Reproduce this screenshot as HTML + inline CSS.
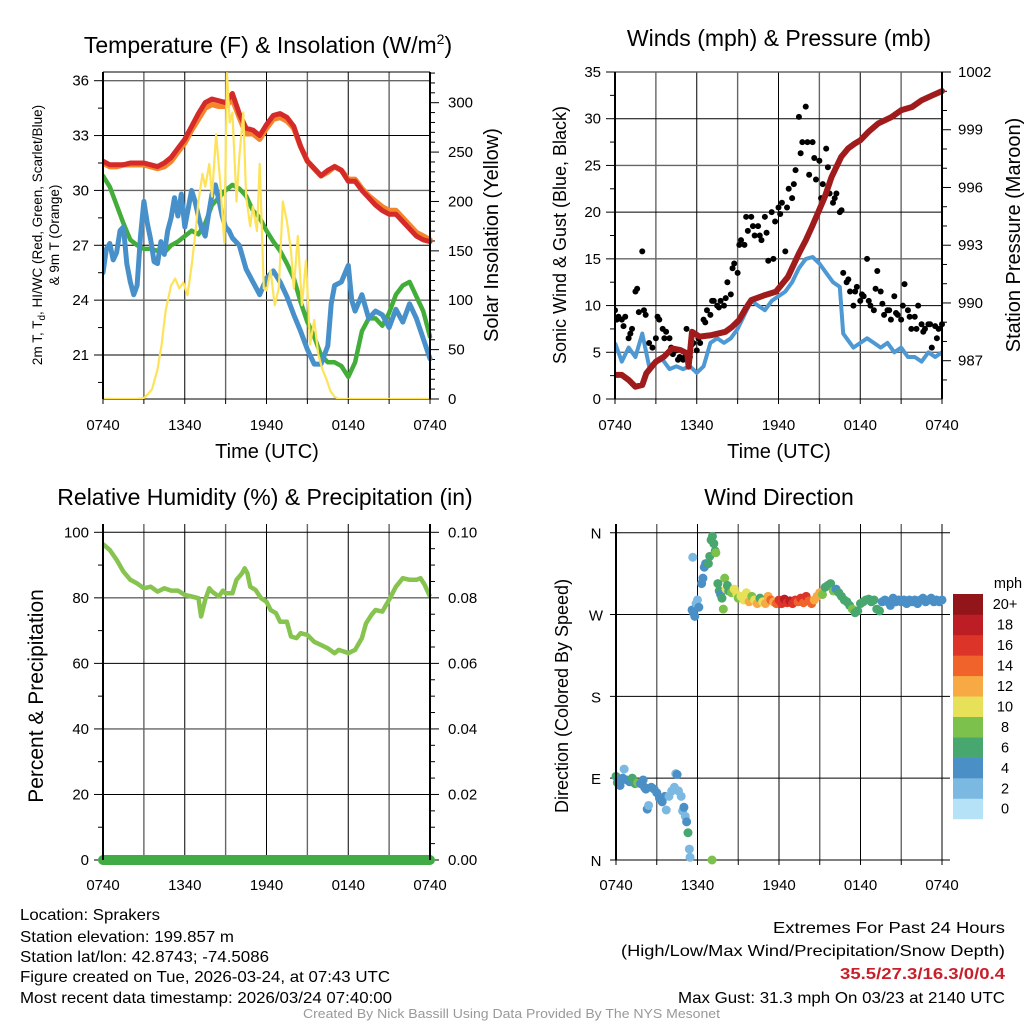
<!DOCTYPE html>
<html><head><meta charset="utf-8"><style>
html,body{margin:0;padding:0;background:#fff;}
svg{display:block;font-family:"Liberation Sans",sans-serif;}
</style></head><body>
<svg id="s" width="1024" height="1024" viewBox="0 0 1024 1024" xmlns="http://www.w3.org/2000/svg">
<g id="panels"></g>
<g font-size="16" fill="#000">
<text x="20" y="920" textLength="140" lengthAdjust="spacingAndGlyphs">Location: Sprakers</text>
<text x="20" y="942" textLength="214" lengthAdjust="spacingAndGlyphs">Station elevation: 199.857 m</text>
<text x="20" y="962" textLength="249" lengthAdjust="spacingAndGlyphs">Station lat/lon: 42.8743; -74.5086</text>
<text x="20" y="982" textLength="370" lengthAdjust="spacingAndGlyphs">Figure created on Tue, 2026-03-24, at 07:43 UTC</text>
<text x="20" y="1003" textLength="372" lengthAdjust="spacingAndGlyphs">Most recent data timestamp: 2026/03/24 07:40:00</text>
</g>
<g font-size="16">
<text x="773" y="933" textLength="232" lengthAdjust="spacingAndGlyphs">Extremes For Past 24 Hours</text>
<text x="621" y="956" textLength="384" lengthAdjust="spacingAndGlyphs">(High/Low/Max Wind/Precipitation/Snow Depth)</text>
<text x="840" y="979" textLength="165" lengthAdjust="spacingAndGlyphs" fill="#c8202a" font-weight="bold">35.5/27.3/16.3/0/0.4</text>
<text x="678" y="1003" textLength="327" lengthAdjust="spacingAndGlyphs">Max Gust: 31.3 mph On 03/23 at 2140 UTC</text>
</g>
<text x="303" y="1018" font-size="12.5" textLength="417" lengthAdjust="spacingAndGlyphs" fill="#999">Created By Nick Bassill Using Data Provided By The NYS Mesonet</text>
</svg>
<script>
// ---------- DATA ----------
const xTickLabels=["0740","1340","1940","0140","0740"];
const tempTimes=[0,0.5,1,1.5,2,2.5,3,3.5,4,4.5,5,5.5,6,6.5,7,7.5,8,8.5,9,9.5,10,10.5,11,11.5,12,12.5,13,13.5,14,14.5,15,15.5,16,16.5,17,17.5,18,18.5,19,19.5,20,20.5,21,21.5,22,22.5,23,23.5,24];
const tempRed=[31.6,31.4,31.4,31.4,31.5,31.5,31.5,31.4,31.3,31.5,31.8,32.3,32.8,33.5,34.2,34.8,35.0,34.9,34.8,35.3,34.2,33.4,33.3,33.0,33.6,34.1,34.2,34.0,33.5,32.4,31.6,31.2,30.8,31.1,31.3,31.1,30.5,30.5,30.0,29.6,29.2,28.9,28.7,28.7,28.3,27.9,27.5,27.3,27.2];
const tempOrange=[31.5,31.3,31.3,31.4,31.4,31.4,31.4,31.3,31.2,31.3,31.6,32.1,32.6,33.3,33.9,34.5,34.7,34.6,34.6,35.0,34.0,33.1,33.1,32.8,33.4,33.9,34.0,33.8,33.4,32.4,31.6,31.2,30.8,31.0,31.3,31.1,30.6,30.6,30.1,29.7,29.4,29.1,28.9,28.9,28.5,28.1,27.7,27.5,27.3];
const tempGreen=[30.8,30.2,29.2,28.2,27.3,27.0,26.8,26.8,26.7,26.6,27.0,27.2,27.5,27.8,27.6,28.2,29.2,29.6,30.0,30.3,30.1,29.7,28.9,28.5,27.8,27.2,26.7,26.0,25.2,23.9,22.8,22.0,21.0,20.6,20.6,20.4,19.8,20.6,22.3,23.0,23.0,22.6,23.3,24.3,24.8,25.0,24.2,23.4,22.0];
const chillTimes=[0,0.25,0.5,0.75,1,1.25,1.5,1.75,2,2.25,2.5,2.75,3,3.25,3.5,3.75,4,4.25,4.5,4.75,5,5.25,5.5,5.75,6,6.25,6.5,6.75,7,7.25,7.5,7.75,8,8.25,8.5,8.75,9,9.25,9.5,9.75,10,10.5,11,11.5,12,12.5,13,13.5,14,14.5,15,15.5,16,16.5,16.75,17,17.5,18,18.25,18.5,19,19.5,20,20.5,21,21.5,22,22.5,23,23.5,24];
const tempBlue=[25.5,26.8,27.1,26.2,26.6,27.8,28.0,26.0,25.0,24.3,24.8,27.5,29.4,28.2,27.3,26.1,26.0,27.2,26.5,27.8,28.5,29.6,28.6,29.8,28.0,29.0,30.0,29.4,28.6,27.9,27.5,28.7,29.8,30.3,29.5,28.6,28.0,27.8,27.4,27.2,27.0,25.7,25.0,24.3,25.2,25.6,25.0,24.2,23.2,22.3,21.3,20.5,20.5,21.5,23.8,24.8,25.0,25.9,24.0,23.4,24.3,23.0,23.4,23.2,22.5,23.5,22.8,23.8,23.0,21.9,20.8];
const solarTimes=[0,1,2,2.5,3,3.3,3.6,4,4.3,4.6,5,5.3,5.6,5.9,6.2,6.5,6.8,7,7.3,7.5,7.8,8,8.3,8.6,8.9,9.1,9.3,9.5,9.8,10,10.3,10.5,10.8,11,11.3,11.5,11.8,12,12.3,12.6,12.9,13.2,13.5,13.8,14,14.3,14.6,14.9,15.2,15.5,15.8,16.1,16.4,16.7,17,17.3,17.6,18,20,22,24];
const solarVals=[0,0,0,0,1,5,10,30,55,90,115,122,112,118,105,135,170,200,228,215,238,205,268,220,158,330,280,290,200,245,290,205,175,195,170,238,112,110,130,95,112,200,180,150,112,165,95,140,55,80,45,30,20,8,2,0,0,0,0,0,0];
const windTimes=[0,0.5,1,1.5,2,2.5,3,3.5,4,4.5,5,5.5,6,6.5,7,7.5,8,8.5,9,9.5,10,10.5,11,11.5,12,12.5,13,13.5,14,14.5,15,15.5,16,16.5,16.75,17,17.5,18,18.5,19,19.5,20,20.5,21,21.5,22,22.5,23,23.5,24];
const windSpeed=[6,4,5.5,4.5,7,3.5,4,4.2,3.2,3.5,3.2,3.5,2.8,3.5,6,6.5,6,6.5,7.5,9,10.5,10,9.5,10.5,11,11.5,12.5,14,15,15.2,14.5,13.5,12.5,12,7,6.5,5.5,6,6.5,6,5.5,6,5,5.5,4.5,4.5,4,5,4.5,5];
const gustTimes=[0,0.25,0.5,0.75,1,1.25,1.5,1.75,2,2.25,2.5,2.75,3,3.25,3.5,3.75,4,4.25,4.5,4.75,5,5.25,5.5,5.75,6,6.25,6.5,6.75,7,7.25,7.5,7.75,8,8.25,8.5,8.75,9,9.25,9.5,9.75,10,10.25,10.5,10.75,11,11.25,11.5,11.75,12,12.25,12.5,12.75,13,13.25,13.5,13.75,14,14.25,14.5,14.75,15,15.25,15.5,15.75,16,16.25,16.5,16.75,17,17.25,17.5,17.75,18,18.25,18.5,18.75,19,19.25,19.5,19.75,20,20.25,20.5,20.75,21,21.25,21.5,21.75,22,22.25,22.5,22.75,23,23.25,23.5,23.75,24];
const gustVals=[9.5,8.8,8.5,8.8,6.5,7.5,11.5,9.3,15.8,9,6,5.5,6.5,8.5,7.5,7.2,6.5,4.8,5.2,4.5,4.2,7.5,4.5,6,5.2,6,8.5,9.5,9,10.5,10,10.5,10,12.5,11.2,14.5,13.5,17,16.5,18,19.5,17.5,18.5,17,19.5,14.8,20,19,20.5,21,15.8,22.5,21.5,24.5,30.2,27.5,31.3,24,27.5,23.5,25.5,23,26.8,22,21,22,20,13.5,12.5,11.5,10,12,10.5,11,15,10,9.5,13.7,11.5,9,9.5,8.5,11,9,8.5,12.3,9.5,7.5,8.8,10,8,7.5,8,5.5,7.8,7.5,8];
const gust2Times=[0.125,0.625,1.125,1.625,2.125,3.125,3.625,4.125,4.625,5.125,5.625,6.125,6.625,7.125,7.625,8.125,8.625,9.125,9.625,10.125,10.625,11.125,11.625,12.125,12.625,13.125,13.625,14.125,14.625,15.125,15.625,16.125,16.625,17.125,17.625,18.125,18.625,19.125,19.625,20.125,20.625,21.125,21.625,22.125,22.625,23.125,23.625];
const gust2Vals=[8.5,7.8,7,11.8,9.5,8.8,6.5,5.5,4.2,4.5,5.8,6.5,8.2,10.5,9.8,10.8,14,16.5,19.5,18.5,17.5,17.8,15,19.8,20.5,23,26.3,27.5,25.8,21.5,24.8,21.5,20.2,12.8,11.5,11.2,10.5,11.8,10.2,9.5,9.2,10,8.8,7.5,7.2,8,6.5];
const presTimes=[0,0.5,1,1.5,2,2.3,2.5,3,3.6,4.2,4.8,5.3,5.4,5.65,6.2,7.1,8.1,8.6,9.1,9.6,10,11,11.8,12,12.7,13.5,14,14.45,15.4,15.9,16.6,17.1,17.6,18,18.6,19.3,20.3,21,21.8,22.5,23.3,24];
const presVals=[986.26,986.26,986.0,985.65,985.74,986.34,986.52,986.95,987.21,987.64,987.55,987.38,986.69,988.5,988.25,988.33,988.5,988.76,989.11,989.72,990.15,990.41,990.58,990.75,991.36,992.57,993.26,993.95,995.51,996.55,997.59,998.02,998.28,998.45,998.89,999.32,999.66,1000.01,1000.18,1000.53,1000.79,1001.01];
const rhTimes=[0,0.5,1,1.5,2,2.5,3,3.5,4,4.5,5,5.5,6,6.5,7,7.2,7.5,7.8,8,8.5,8.8,9,9.5,9.8,10.2,10.4,10.6,10.8,11.2,11.6,12,12.3,12.7,13,13.5,13.8,14.2,14.5,15,15.5,16,16.5,17,17.3,17.7,18,18.5,19,19.3,19.7,20,20.5,21,21.5,22,22.5,23,23.3,23.6,24];
const rhVals=[96.4,94.6,91.6,88,85.5,84.4,82.9,83.4,81.9,82.9,82.2,82.2,80.9,80.4,79.9,74.3,79.4,82.9,81.9,80.4,82.2,81.4,81.4,85.5,87.5,89,87.5,83.4,82.4,79.9,78.8,76.3,75.3,72.7,72.7,68.2,67.7,69.2,68.7,66.6,65.6,64.6,63.1,64.1,63.6,63.1,64.1,67.7,72.2,74.8,76.3,75.8,79.4,83.4,86,85.5,85.5,86,84,80.4];
const precipTimes=[0,24];
const precipVals=[0,0];
const dirTimes=[0,0.1,0.2,0.3,0.5,0.6,0.8,1,1.2,1.4,1.6,1.8,2,2.1,2.2,2.3,2.4,2.6,2.8,3,3.2,3.4,3.6,3.7,3.9,4.1,4.3,4.4,4.5,4.6,4.8,4.9,5,5.1,5.2,5.3,5.4,5.45,5.65,5.6,5.7,5.8,5.9,6,6.1,6.3,6.4,6.5,6.6,6.8,6.9,7,7.1,7.2,7.3,7.35,7.07,7.5,7.6,7.7,7.8,7.9,8,8.1,8.2,8.3,8.5,8.7,8.9,9,9.2,9.4,9.6,9.8,10,10.2,10.4,10.6,10.8,11,11.2,11.4,11.6,11.8,12,12.2,12.4,12.6,12.8,13,13.2,13.4,13.6,13.8,14,14.2,14.4,14.6,14.8,15,15.2,15.4,15.6,15.8,16,16.2,16.4,16.6,16.8,17,17.2,17.4,17.6,17.8,18,18.2,18.4,18.6,18.8,19,19.2,19.4,19.6,19.8,20,20.2,20.4,20.6,20.8,21,21.2,21.4,21.6,21.8,22,22.2,22.4,22.6,22.8,23,23.2,23.4,23.6,23.8,24];
const dirDeg=[92,85,88,82,90,100,88,86,90,84,85,84,88,80,78,56,60,80,78,74,68,64,70,55,70,76,80,95,94,76,70,54,58,48,42,30,12,3,333,275,272,268,282,286,278,304,310,322,326,326,334,352,356,348,340,338,0,304,296,292,288,276,310,298,302,296,294,298,292,288,290,286,294,284,290,286,282,288,284,282,290,286,284,282,286,282,287,283,285,282,286,284,288,283,290,285,282,286,290,294,292,300,302,304,296,298,294,290,286,284,280,276,272,274,282,284,286,287,284,286,276,274,284,286,284,280,288,284,286,284,286,282,286,284,286,282,286,288,284,286,288,284,286,284,286];
const dirSpeed=[6,6,4,4,4,2,4,4,6,6,8,4,4,4,4,4,2,4,4,4,4,4,4,2,2,2,2,2,4,2,2,2,4,2,4,6,2,2,2,4,4,4,2,2,4,4,4,4,4,6,6,6,6,6,6,8,8,6,6,4,6,8,8,10,6,6,8,10,10,8,10,10,10,12,8,10,12,6,10,12,12,14,12,14,16,16,18,16,18,16,16,14,16,14,16,14,14,12,12,12,8,6,6,6,8,4,6,6,6,6,6,8,6,6,6,6,6,6,6,6,6,6,4,4,4,4,4,4,4,4,4,4,4,4,4,4,4,4,4,4,4,4,4,4,4,4,4];
const binColors=["#b5e2f6","#7cb9e2","#4a8fc5","#48a66f","#7cc14b","#e7e15a","#f7a944","#f0632b","#dd3429","#bd1d25","#921519"];
const binLabels=["0","2","4","6","8","10","12","14","16","18","20+"];

// ---------- DRAW ----------
const NS="http://www.w3.org/2000/svg";
const root=document.getElementById('panels');
function mk(tag,attrs,parent){const e=document.createElementNS(NS,tag);for(const k in attrs)e.setAttribute(k,attrs[k]);(parent||root).appendChild(e);return e;}
function txt(x,y,s,size,parent,extra){const e=mk('text',Object.assign({x:x,y:y,'font-size':size},extra||{}),parent);e.textContent=s;return e;}
function lin(d0,d1,r0,r1){return v=>r0+(v-d0)/(d1-d0)*(r1-r0);}
function path(xs,ys,fx,fy){let d="";for(let i=0;i<xs.length;i++)d+=(i?"L":"M")+fx(xs[i]).toFixed(1)+","+fy(ys[i]).toFixed(1);return d;}

function frame(g,L,R,T,B){
  const fx=lin(0,24,L,R);
  for(let h=0;h<=24;h+=3){const x=fx(h);
    const gl=mk('line',{x1:x,x2:x,y1:T,y2:B,stroke:(h%6==0)?'#000':'#666','stroke-width':(h%6==0)?1:1.4},g);
    
    
    mk('line',{x1:x,x2:x,y1:B,y2:B+5,stroke:'#000'},g);
  }
  xTickLabels.forEach((s,i)=>{const t=txt(fx(i*6),(B>600?890:430),s,15,g,{'text-anchor':'middle'});
    
    });
  return fx;
}
function hgrid(g,L,R,y,dark){const e=mk('line',{x1:L,x2:R,y1:y,y2:y,stroke:dark?'#000':'#666','stroke-width':dark?1:1.4},g);
  
  }
function border(g,L,R,T,B){mk('line',{x1:L,x2:L,y1:T,y2:B,stroke:'#000','stroke-width':2},g);mk('line',{x1:R,x2:R,y1:T,y2:B,stroke:'#000','stroke-width':2},g);}

// Panel 1
(function(){
  const g=mk('g',{});
  const L=103,R=430,T=72,B=399;
  const fy=lin(36,21,80.7,355),fs=lin(0,300,399,102.7);
  const fx=frame(g,L,R,T,B);
  hgrid(g,L,R,T,true);
  [36,33,30,27,24,21].forEach((v,i)=>{hgrid(g,L,R,fy(v),i%2==1);mk('line',{x1:L-9,x2:L,y1:fy(v),y2:fy(v),stroke:'#000'},g);
    const t=txt(L-14,fy(v)+5,String(v),15,g,{'text-anchor':'end'});});
  [34.5,31.5,28.5,25.5,22.5,19.5].forEach(v=>mk('line',{x1:L-5,x2:L,y1:fy(v),y2:fy(v),stroke:'#000'},g));
  for(let w=0;w<=330;w+=10){const y=fs(w);mk('line',{x1:R,x2:R+(w%50==0?9:5),y1:y,y2:y,stroke:'#000'},g);}
  [0,50,100,150,200,250,300].forEach(w=>{const t=txt(R+18,fs(w)+5,String(w),15,g);});
  hgrid(g,L,R,B,true);
  const cl=mk('clipPath',{id:'c1'},g);mk('rect',{x:L,y:T-6,width:R-L+4,height:B-T+6},cl);
  const pg=mk('g',{'clip-path':'url(#c1)'},g);
  const sets=[[tempTimes,tempOrange,'#f5852b','orange-9m-temp-line',5.5],[tempTimes,tempRed,'#d42a2a','red-2m-temp-line',5],[tempTimes,tempGreen,'#43ad3a','green-dewpoint-line',4.5],[chillTimes,tempBlue,'#4890c9','blue-windchill-line',5]];
  sets.forEach(s=>{const p=mk('path',{d:path(s[0],s[1],fx,fy),fill:'none',stroke:s[2],'stroke-width':s[4],'stroke-linejoin':'round','stroke-linecap':'round'},pg);
    });
  const sp=mk('path',{d:path(solarTimes,solarVals,fx,fs),fill:'none',stroke:'#fde35a','stroke-width':2.2,'stroke-linejoin':'round'},pg);
  
  border(g,L,R,T,B);
  const t1=txt(268,53,'',23,g,{'text-anchor':'middle'});t1.innerHTML='Temperature (F) &amp; Insolation (W/m<tspan dy="-9" font-size="14">2</tspan><tspan dy="9">)</tspan>';
  
  const a=txt(0,0,'',13.5,g,{'text-anchor':'middle',transform:'translate(42,235) rotate(-90)'});a.innerHTML='2m T, T<tspan dy="3" font-size="10">d</tspan><tspan dy="-3">, HI/WC (Red, Green, Scarlet/Blue)</tspan>';
  
  const a2=txt(0,0,'& 9m T (Orange)',13.5,g,{'text-anchor':'middle',transform:'translate(59,235) rotate(-90)'});
  const a3=txt(0,0,'Solar Insolation (Yellow)',20,g,{'text-anchor':'middle',transform:'translate(498,235) rotate(-90)'});
  const a4=txt(267,458,'Time (UTC)',20,g,{'text-anchor':'middle'});
})();

// Panel 2
(function(){
  const g=mk('g',{});
  const L=615,R=942,T=72,B=399;
  const fy=lin(0,35,399,72),fp=lin(987,1002,360.7,72);
  const fx=frame(g,L,R,T,B);
  [0,5,10,15,20,25,30,35].forEach((v,i)=>{hgrid(g,L,R,fy(v),i%2==0);mk('line',{x1:L-9,x2:L,y1:fy(v),y2:fy(v),stroke:'#000'},g);
    const t=txt(L-14,fy(v)+5,String(v),15,g,{'text-anchor':'end'});});
  [2.5,7.5,12.5,17.5,22.5,27.5,32.5].forEach(v=>mk('line',{x1:L-5,x2:L,y1:fy(v),y2:fy(v),stroke:'#000'},g));
  for(let p=986;p<=1002;p++){const y=fp(p);mk('line',{x1:R,x2:R+(p%3==0?9:5),y1:y,y2:y,stroke:'#000'},g);}
  [987,990,993,996,999,1002].forEach(p=>{const t=txt(R+16,fp(p)+5,String(p),15,g);});
  const cl=mk('clipPath',{id:'c2'},g);mk('rect',{x:L,y:T,width:R-L+5,height:B-T},cl);
  const pg=mk('g',{'clip-path':'url(#c2)'},g);
  const w=mk('path',{d:path(windTimes,windSpeed,fx,fy),fill:'none',stroke:'#4e99d3','stroke-width':4,'stroke-linejoin':'round'},pg);
  
  const dg=mk('g',{},pg);
  gustTimes.forEach((t,i)=>{const c=mk('circle',{cx:fx(t),cy:fy(gustVals[i]),r:3,fill:'#000'},dg);
    });
  gust2Times.forEach((t,i)=>{const c=mk('circle',{cx:fx(t),cy:fy(gust2Vals[i]),r:3,fill:'#000'},dg);
    });
  const p=mk('path',{d:path(presTimes,presVals,fx,fp),fill:'none',stroke:'#a01c1c','stroke-width':6,'stroke-linejoin':'round','stroke-linecap':'round'},pg);
  
  border(g,L,R,T,B);
  const t1=txt(779,46,'Winds (mph) & Pressure (mb)',23,g,{'text-anchor':'middle'});
  const a=txt(0,0,'Sonic Wind & Gust (Blue, Black)',18,g,{'text-anchor':'middle',transform:'translate(566,235) rotate(-90)'});
  const a3=txt(0,0,'Station Pressure (Maroon)',20,g,{'text-anchor':'middle',transform:'translate(1020,235) rotate(-90)'});
  const a4=txt(779,458,'Time (UTC)',20,g,{'text-anchor':'middle'});
})();

// Panel 3
(function(){
  const g=mk('g',{});
  const L=103,R=430,T=524,B=860;
  const fy=lin(0,100,860,532.3),fq=lin(0,0.1,860,532.3);
  const fx=frame(g,L,R,T,B);
  [0,20,40,60,80,100].forEach((v,i)=>{hgrid(g,L,R,fy(v),i%2==1||v==100);mk('line',{x1:L-9,x2:L,y1:fy(v),y2:fy(v),stroke:'#000'},g);
    const t=txt(L-14,fy(v)+5,String(v),15,g,{'text-anchor':'end'});});
  [10,30,50,70,90].forEach(v=>mk('line',{x1:L-5,x2:L,y1:fy(v),y2:fy(v),stroke:'#000'},g));
  for(let q=0;q<=0.1001;q+=0.005){const y=fq(q);const maj=Math.abs(q*100-Math.round(q*50)*2)<0.01;mk('line',{x1:R,x2:R+(maj?9:5),y1:y,y2:y,stroke:'#000'},g);}
  ["0.00","0.02","0.04","0.06","0.08","0.10"].forEach((s,i)=>{const t=txt(R+18,fq(i*0.02)+5,s,15,g);});
  const r=mk('path',{d:path(rhTimes,rhVals,fx,fy),fill:'none',stroke:'#86c34f','stroke-width':4.5,'stroke-linejoin':'round'},g);
  
  const pr=mk('path',{d:path(precipTimes,precipVals,fx,fq),fill:'none',stroke:'#41ab45','stroke-width':10,'stroke-linecap':'round'},g);
  
  border(g,L,R,T,B);
  const t1=txt(265,505,'Relative Humidity (%) & Precipitation (in)',23,g,{'text-anchor':'middle'});
  const a=txt(0,0,'Percent & Precipitation',21,g,{'text-anchor':'middle',transform:'translate(43,696) rotate(-90)'});
})();

// Panel 4
(function(){
  const g=mk('g',{});
  const L=616,R=942,T=524,B=860;
  const fy=lin(0,360,860,532.7);
  const fx=frame(g,L,R,T,B);
  ["N","E","S","W","N"].forEach((s,i)=>{const y=fy(i*90);hgrid(g,L-6,R+8,y,true);
    const t=txt(L-20,y+6,s,15,g,{'text-anchor':'middle'});});
  const dg=mk('g',{},g);
  dirTimes.forEach((t,i)=>{const b=Math.min(10,Math.floor(dirSpeed[i]/2));
    const c=mk('circle',{cx:fx(t),cy:fy(dirDeg[i]),r:4.5,fill:binColors[b]},dg);
    });
  mk('line',{x1:L,x2:L,y1:T,y2:B,stroke:'#000','stroke-width':2},g);
  const t1=txt(779,505,'Wind Direction',23,g,{'text-anchor':'middle'});
  const a=txt(0,0,'Direction (Colored By Speed)',18,g,{'text-anchor':'middle',transform:'translate(568,696) rotate(-90)'});
  const cb=mk('g',{},g);
  const top=594,bh=20.45;
  for(let i=0;i<11;i++){const y=top+(10-i)*bh;
    const rc=mk('rect',{x:953,y:y,width:30,height:bh+0.3,fill:binColors[i]},cb);
    
    const t=txt(1005,y+bh/2+5,binLabels[i],14.5,cb,{'text-anchor':'middle'});}
  const u=txt(1008,588,'mph',14.5,cb,{'text-anchor':'middle'});
})();
</script>
</body></html>
